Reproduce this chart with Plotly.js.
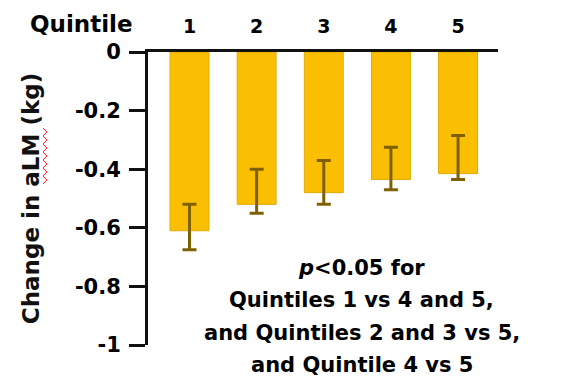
<!DOCTYPE html>
<html>
<head>
<meta charset="utf-8">
<script src="https://cdn.plot.ly/plotly-3.0.1.min.js"></script>
<style>
  html, body { margin: 0; padding: 0; background: #fff; }
  #chart { width: 561px; height: 382px; }
</style>
</head>
<body>
<div id="chart"></div>
<script>
// Change in appendicular lean mass by quintile
const quintiles = ['1', '2', '3', '4', '5'];
const meanChange = [-0.61, -0.52, -0.48, -0.435, -0.415];
const errUp = [0.09, 0.12, 0.11, 0.11, 0.13];
const errDown = [0.065, 0.03, 0.04, 0.035, 0.02];
const yTickVals = [0, -0.2, -0.4, -0.6, -0.8, -1];
const yTickText = ['0', '-0.2', '-0.4', '-0.6', '-0.8', '-1'];
const noteLines = [
  '<i>p</i><0.05 for',
  'Quintiles 1 vs 4 and 5,',
  'and Quintiles 2 and 3 vs 5,',
  'and Quintile 4 vs 5'
];

const FONT = '"DejaVu Sans", "Open Sans", sans-serif';

const bars = {
  type: 'bar',
  x: quintiles,
  y: meanChange,
  width: 0.58,
  marker: { color: '#FABF03', line: { color: '#E3AA00', width: 1 } },
  error_y: {
    type: 'data',
    symmetric: false,
    array: errUp,
    arrayminus: errDown,
    color: '#7F6000',
    thickness: 3,
    width: 7
  },
  hoverinfo: 'x+y'
};

const M = { l: 148, r: 63, t: 52, b: 37 };
const PW = 561 - M.l - M.r, PH = 382 - M.t - M.b;

// red wavy spell-check underline beside "aLM" in the axis title
function squiggle(px0, py0, py1) {
  const toX = p => (p - M.l) / PW;
  const toY = p => 1 - (p - M.t) / PH;
  let d = 'M' + toX(px0) + ',' + toY(py0);
  let k = 0;
  for (let y = py0 + 4; y <= py1; y += 4, k++) {
    d += ' L' + toX(px0 + (k % 2 === 0 ? 4 : 0)) + ',' + toY(y);
  }
  return d;
}

// significance note, one annotation per line for wider line spacing
const noteAnnotations = noteLines.map((txt, i) => ({
  xref: 'paper', yref: 'paper',
  x: (361.6 - M.l) / PW, y: 1,
  xanchor: 'center', yanchor: 'middle',
  yshift: -(216 + i * 32.4),
  text: txt,
  showarrow: false,
  font: { family: FONT, size: 21, color: '#000', weight: 'bold' }
}));

const layout = {
  width: 561,
  height: 382,
  margin: M,
  paper_bgcolor: '#ffffff',
  plot_bgcolor: '#ffffff',
  showlegend: false,
  font: { family: FONT, color: '#000000' },
  xaxis: {
    type: 'category',
    side: 'top',
    range: [-0.618, 4.595],
    showline: true,
    linecolor: '#111111',
    linewidth: 3,
    ticks: '',
    showgrid: false,
    zeroline: false,
    tickfont: { family: FONT, size: 19, color: '#000', weight: 'bold' },
    ticklabelstandoff: 8,
    fixedrange: true
  },
  yaxis: {
    range: [-1, 0],
    tickvals: yTickVals,
    ticktext: yTickText,
    showline: true,
    linecolor: '#111111',
    linewidth: 3,
    ticks: 'outside',
    ticklen: 16,
    tickwidth: 3,
    tickcolor: '#111111',
    showgrid: false,
    zeroline: false,
    tickfont: { family: FONT, size: 21, color: '#000', weight: 'bold' },
    ticklabelstandoff: 4,
    title: {
      text: 'Change in aLM (kg)',
      font: { family: FONT, size: 23, color: '#111', weight: 'bold' },
      standoff: 29
    },
    fixedrange: true
  },
  annotations: [
    {
      xref: 'paper', yref: 'paper',
      x: (81.5 - M.l) / PW, y: 1,
      xanchor: 'center', yanchor: 'middle',
      yshift: 28,
      text: 'Quintile',
      showarrow: false,
      font: { family: FONT, size: 23, color: '#000', weight: 'bold' }
    }
  ].concat(noteAnnotations),
  shapes: [
    {
      type: 'path',
      xref: 'paper', yref: 'paper',
      path: squiggle(43, 128, 184),
      line: { color: '#FF2020', width: 1 }
    }
  ]
};

Plotly.newPlot('chart', [bars], layout, { displayModeBar: false, staticPlot: true });
</script>
</body>
</html>
